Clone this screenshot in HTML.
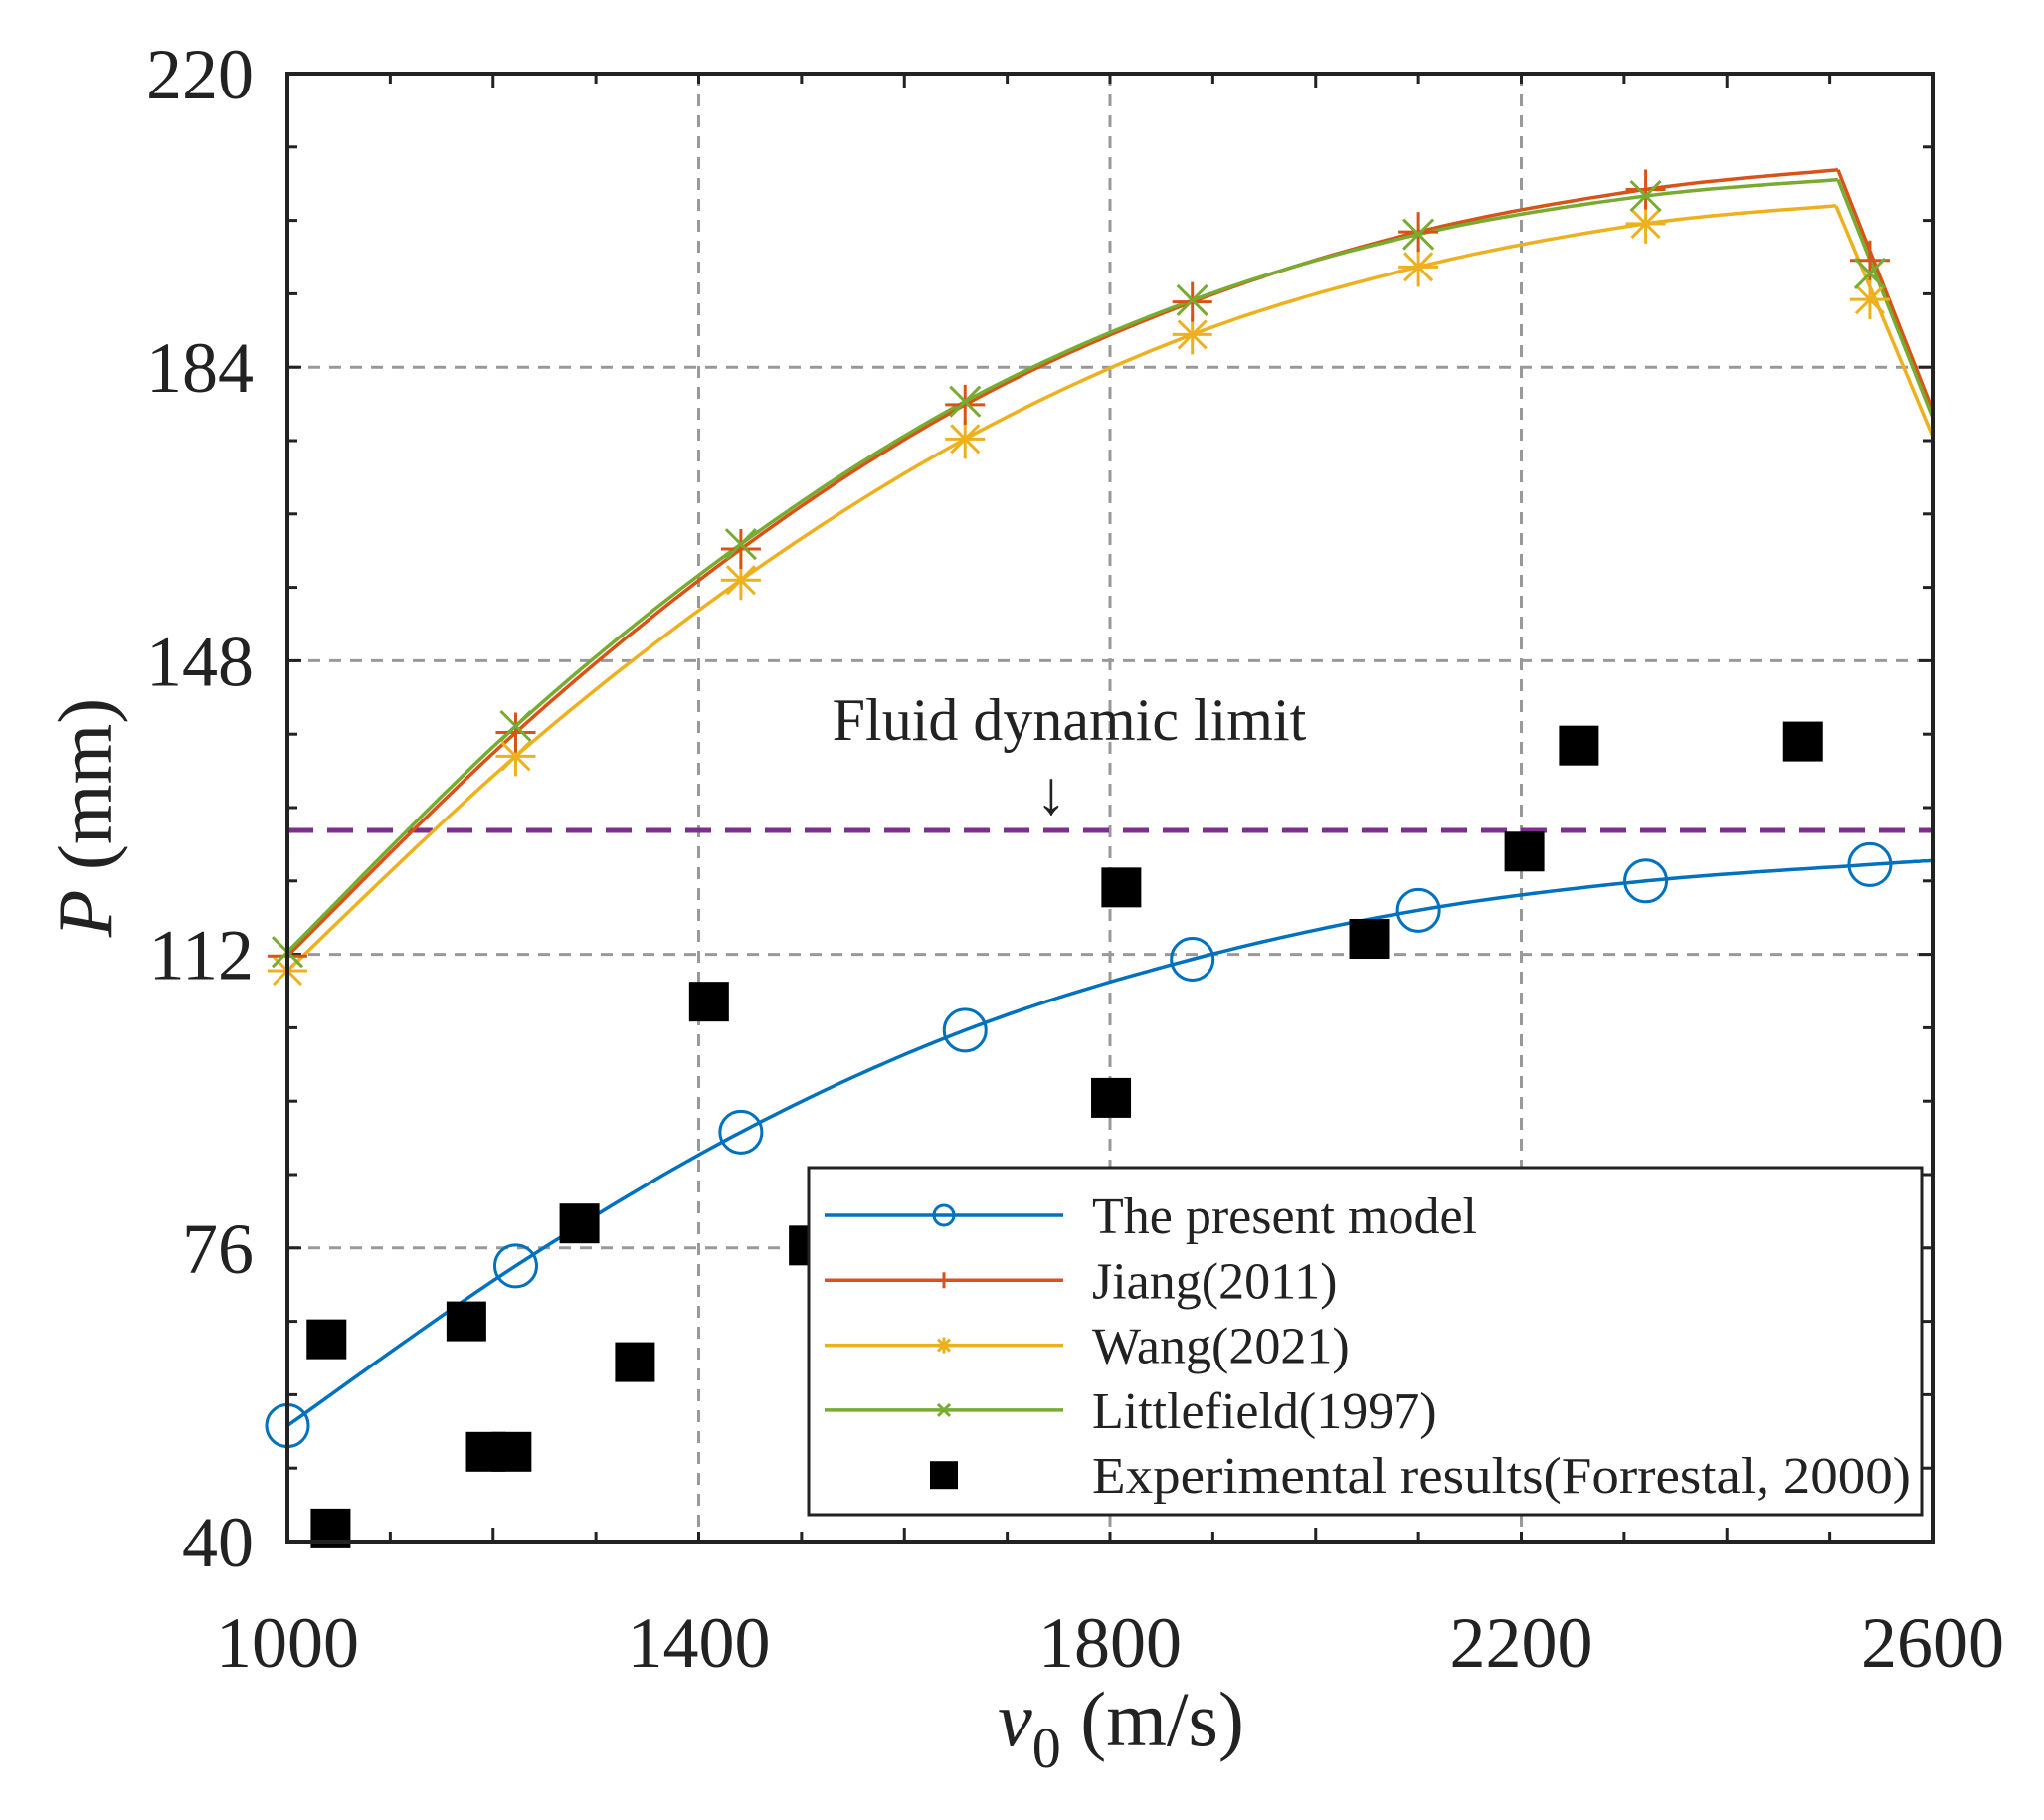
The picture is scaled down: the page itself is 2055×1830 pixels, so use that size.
<!DOCTYPE html>
<html><head><meta charset="utf-8"><style>
html,body{margin:0;padding:0;background:#fff;}
svg{display:block;}
text{font-family:"Liberation Serif",serif;fill:#222;}
</style></head><body>
<svg id="s" width="2055" height="1830" xmlns="http://www.w3.org/2000/svg"></svg>
<script>
const X=v=>289+(v-1000)*1.03375, Y=p=>74+(220-p)*8.2;
let h='';
for(const v of [1400,1800,2200]) h+=`<line x1="${X(v)}" y1="74" x2="${X(v)}" y2="1550" stroke="#999" stroke-width="3" stroke-dasharray="12,9"/>`;
for(const p of [184,148,112,76]) h+=`<line x1="289" y1="${Y(p)}" x2="1943" y2="${Y(p)}" stroke="#999" stroke-width="3" stroke-dasharray="12,9"/>`;
for(let v=1000;v<=2600;v+=100){const L=(v%400==0)?14:10;h+=`<line x1="${X(v)}" y1="1550" x2="${X(v)}" y2="${1550-L}" stroke="#222" stroke-width="3"/><line x1="${X(v)}" y1="74" x2="${X(v)}" y2="${74+L}" stroke="#222" stroke-width="3"/>`;}
for(let p=40;p<=220;p+=9){const L=((p-40)%36==0)?14:10;h+=`<line x1="289" y1="${Y(p)}" x2="${289+L}" y2="${Y(p)}" stroke="#222" stroke-width="3"/><line x1="1943" y1="${Y(p)}" x2="${1943-L}" y2="${Y(p)}" stroke="#222" stroke-width="3"/>`;}
for(const p of [40,76,112,148,184,220]) h+=`<text x="255" y="${Y(p)+25}" font-size="72" text-anchor="end">${p}</text>`;
for(const v of [1000,1400,1800,2200,2600]) h+=`<text x="${X(v)}" y="1676" font-size="72" text-anchor="middle">${v}</text>`;
h+=`<text x="1127" y="1755" font-size="78" text-anchor="middle"><tspan font-style="italic">v</tspan><tspan font-size="58" dy="22">0</tspan><tspan dy="-22"> (m/s)</tspan></text>`;
h+=`<text transform="translate(112,822) rotate(-90)" font-size="78" text-anchor="middle"><tspan font-style="italic">P</tspan> (mm)</text>`;
h+=`<line x1="289" y1="${Y(127.2)}" x2="1943" y2="${Y(127.2)}" stroke="#7E2F8E" stroke-width="5" stroke-dasharray="26,14"/>`;
h+=`<text x="1075" y="744" font-size="60" text-anchor="middle">Fluid dynamic limit</text>`;
h+=`<text x="1057" y="818" font-size="62" text-anchor="middle">↓</text>`;
function cr(pts){let out=[];for(let i=0;i<pts.length-1;i++){const p0=pts[Math.max(i-1,0)],p1=pts[i],p2=pts[i+1],p3=pts[Math.min(i+2,pts.length-1)];for(let t=0;t<1;t+=0.05){const t2=t*t,t3=t2*t;const f=(a,b,c,d)=>0.5*(2*b+(-a+c)*t+(2*a-5*b+4*c-d)*t2+(-a+3*b-3*c+d)*t3);out.push([f(p0[0],p1[0],p2[0],p3[0]),f(p0[1],p1[1],p2[1],p3[1])]);}}out.push(pts[pts.length-1]);return out;}
function path(pts,col,w){const q=cr(pts).map(p=>X(p[0]).toFixed(1)+','+Y(p[1]).toFixed(1));return `<polyline points="${q.join(' ')}" fill="none" stroke="${col}" stroke-width="${w}"/>`;}
function seg(up,end,col){return path(up,col,3.5)+`<line x1="${X(up[up.length-1][0])}" y1="${Y(up[up.length-1][1])}" x2="${X(end[0])}" y2="${Y(end[1])}" stroke="${col}" stroke-width="3.5"/>`;}
const vs=[1000,1222,1441,1659,1880,2100,2321];
const wang=[[1000,110],[1222,136.3],[1441,157.9],[1659,175.2],[1880,188],[2100,196.3],[2321,201.6],[2506,203.8]];
const jiang=[[1000,111.8],[1222,139.2],[1441,161.7],[1659,179.4],[1880,192],[2100,200.6],[2321,205.8],[2508,208.2]];
const lit=[[1000,112.3],[1222,140],[1441,162.3],[1659,179.8],[1880,192.2],[2100,200.3],[2321,205],[2508,207]];
h+=seg(wang,[2600,175.5],'#EDB120');
h+=seg(jiang,[2600,178.7],'#D95319');
h+=seg(lit,[2600,177.8],'#77AC30');
const pres=[[1000,54.2],[1222,73.8],[1441,90.2],[1659,102.7],[1880,111.4],[2100,117.4],[2321,121],[2539,123],[2600,123.5]];
h+=path(pres,'#0072BD',3.5);
function plus(x,y,c,s){return `<path d="M${x-s},${y}h${2*s}M${x},${y-s}v${2*s}" stroke="${c}" stroke-width="3"/>`;}
function xm(x,y,c,s){return `<path d="M${x-s},${y-s}l${2*s},${2*s}M${x-s},${y+s}l${2*s},${-2*s}" stroke="${c}" stroke-width="3"/>`;}
function ast(x,y,c){return plus(x,y,c,20)+xm(x,y,c,14);}
const mv=[...vs,2539];
const wv=[110,136.3,157.9,175.2,188,196.3,201.6,192.3];
const jv=[111.8,139.2,161.7,179.4,192,200.6,205.8,197.1];
const lv=[112.3,140,162.3,179.8,192.2,200.3,205,195.5];
mv.forEach((v,i)=>{h+=ast(X(v),Y(wv[i]),'#EDB120');h+=plus(X(v),Y(jv[i]),'#D95319',20);h+=xm(X(v),Y(lv[i]),'#77AC30',15);});
pres.slice(0,8).forEach(p=>{h+=`<circle cx="${X(p[0])}" cy="${Y(p[1])}" r="21" fill="none" stroke="#0072BD" stroke-width="3"/>`;});
const ex=[[1038,64.8],[1042,41.6],[1174,67],[1193,51],[1218,51],[1284,79],[1338,62],[1410,106.2],[1507,76.3],[1801,94.4],[1811,120.2],[2052,113.9],[2203,124.6],[2256,137.6],[2474,138.1]];
ex.forEach(p=>{h+=`<rect x="${X(p[0])-20}" y="${Y(p[1])-20}" width="40" height="40" fill="#000"/>`;});
h+=`<rect x="813" y="1174" width="1119" height="349" fill="#fff" stroke="#222" stroke-width="3"/>`;
const rows=[['The present model','#0072BD','o'],['Jiang(2011)','#D95319','+'],['Wang(2021)','#EDB120','*'],['Littlefield(1997)','#77AC30','x'],['Experimental results(Forrestal, 2000)','#000','s']];
rows.forEach((r,i)=>{const y=1222+i*65.3;
 if(r[2]!='s')h+=`<line x1="829" y1="${y}" x2="1069" y2="${y}" stroke="${r[1]}" stroke-width="3.5"/>`;
 if(r[2]=='o')h+=`<circle cx="949" cy="${y}" r="10" fill="none" stroke="${r[1]}" stroke-width="3"/>`;
 if(r[2]=='+')h+=`<path d="M941,${y}h16M949,${y-8}v16" stroke="${r[1]}" stroke-width="3"/>`;
 if(r[2]=='*')h+=`<path d="M941,${y}h16M949,${y-8}v16M943,${y-6}l12,12M943,${y+6}l12,-12" stroke="${r[1]}" stroke-width="3"/>`;
 if(r[2]=='x')h+=`<path d="M943,${y-6}l12,12M943,${y+6}l12,-12" stroke="${r[1]}" stroke-width="3"/>`;
 if(r[2]=='s')h+=`<rect x="935" y="${y-14}" width="28" height="28" fill="#000"/>`;
 h+=`<text x="1098" y="${y+18}" font-size="52" textLength="${i==4?823:0}" ${i==4?'lengthAdjust="spacingAndGlyphs"':''}>${r[0]}</text>`;});
h+=`<rect x="289" y="74" width="1654" height="1476" fill="none" stroke="#222" stroke-width="4"/>`;
document.getElementById('s').innerHTML=h.replace(/ textLength="0"/g,'');
</script>
</body></html>
